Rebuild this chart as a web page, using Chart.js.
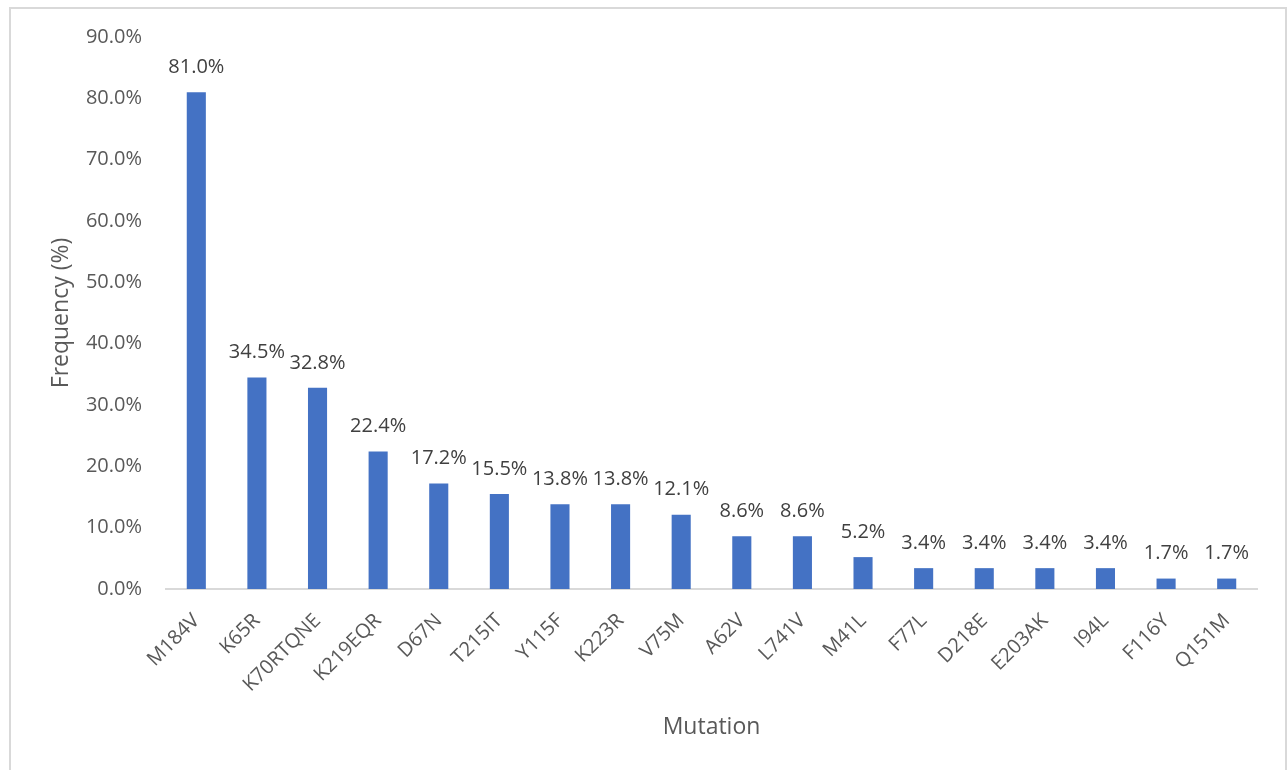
<!DOCTYPE html>
<html>
<head>
<meta charset="utf-8">
<script src="https://cdn.jsdelivr.net/npm/chart.js@4.4.1/dist/chart.umd.min.js"></script>
<style>
  html, body { margin: 0; padding: 0; background: #fff; }
  #wrap { position: absolute; left: 0; top: 0; width: 1288px; height: 770px; }
</style>
</head>
<body>
<div id="wrap"><canvas id="mutationChart"></canvas></div>
<script>
const mutations = ["M184V", "K65R", "K70RTQNE", "K219EQR", "D67N", "T215IT", "Y115F", "K223R", "V75M",
  "A62V", "L741V", "M41L", "F77L", "D218E", "E203AK", "I94L", "F116Y", "Q151M"];
const frequency = [81.0, 34.5, 32.8, 22.4, 17.2, 15.5, 13.8, 13.8, 12.1, 8.6, 8.6, 5.2, 3.4, 3.4, 3.4, 3.4, 1.7, 1.7];

const fontFamily = '"Open Sans", "Noto Sans", sans-serif';

// draws the value above each bar
const valueLabels = {
  id: 'valueLabels',
  afterDatasetsDraw(chart) {
    const ctx = chart.ctx;
    const meta = chart.getDatasetMeta(0);
    ctx.save();
    ctx.font = '20px ' + fontFamily;
    ctx.fillStyle = '#404040';
    ctx.textAlign = 'center';
    ctx.textBaseline = 'middle';
    meta.data.forEach((bar, i) => {
      ctx.fillText(frequency[i].toFixed(1) + '%', bar.x, bar.y - 25);
    });
    ctx.restore();
  }
};

// light frame round the chart
const frame = {
  id: 'frame',
  beforeDraw(chart) {
    const ctx = chart.ctx;
    ctx.save();
    ctx.strokeStyle = '#d9d9d9';
    ctx.lineWidth = 2;
    ctx.beginPath();
    ctx.moveTo(10, 780);
    ctx.lineTo(10, 8);
    ctx.lineTo(1286, 8);
    ctx.lineTo(1286, 780);
    ctx.stroke();
    ctx.restore();
  }
};

new Chart(document.getElementById('mutationChart'), {
  type: 'bar',
  data: {
    labels: mutations,
    datasets: [{
      label: 'Frequency',
      data: frequency,
      backgroundColor: '#4472C4',
      categoryPercentage: 0.35,
      barPercentage: 0.9
    }]
  },
  options: {
    responsive: true,
    maintainAspectRatio: false,
    animation: false,
    layout: { padding: { top: 37, right: 31, left: 0, bottom: 0 } },
    plugins: {
      legend: { display: false },
      tooltip: { enabled: false }
    },
    scales: {
      x: {
        grid: { display: false },
        border: { display: true, color: '#d9d9d9', width: 2 },
        ticks: {
          color: '#595959',
          font: { family: fontFamily, size: 20 },
          minRotation: 45,
          maxRotation: 45,
          padding: 12
        },
        title: {
          display: true,
          text: 'Mutation',
          color: '#595959',
          font: { family: fontFamily, size: 23 },
          padding: { top: 0, bottom: 29 }
        },
        afterFit(scale) { scale.height = 181; }
      },
      y: {
        min: 0,
        max: 90,
        grid: { display: false, drawTicks: false },
        border: { display: false },
        ticks: {
          stepSize: 10,
          color: '#595959',
          font: { family: fontFamily, size: 20 },
          padding: 24,
          callback: v => v.toFixed(1) + '%'
        },
        title: {
          display: true,
          text: 'Frequency (%)',
          color: '#595959',
          font: { family: fontFamily, size: 23 },
          padding: { top: 48, bottom: 0 }
        },
        afterFit(scale) { scale.width = 166; }
      }
    }
  },
  plugins: [frame, valueLabels]
});
</script>
</body>
</html>
